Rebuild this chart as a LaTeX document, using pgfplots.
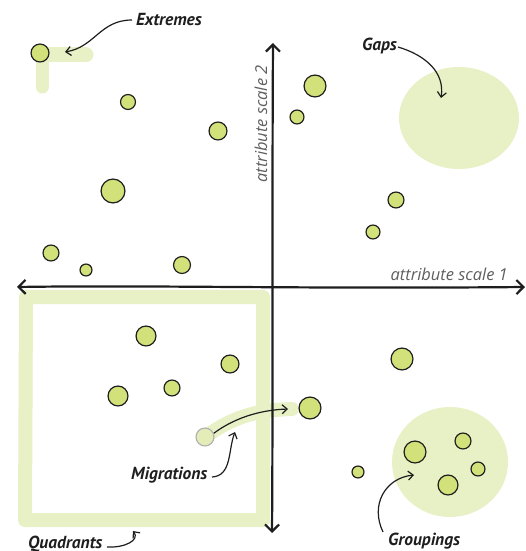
\documentclass[border=0pt]{standalone}
\usepackage{pgfplots}
\pgfplotsset{compat=1.18}
\usepackage{fontspec}
\setmainfont{PT Sans}
\newfontfamily\labfont{Open Sans}
\usetikzlibrary{arrows.meta}
\definecolor{ptfill}{HTML}{D2E17A}
\definecolor{hl}{HTML}{E8F0C6}
\definecolor{labgray}{HTML}{5E5E5E}
\definecolor{ink}{HTML}{1E1E1E}
\pgfplotstableread{
x y r
40 53 9
128 102 7.5
218 131 9
113 191 12
51 253 8
86 270 6
182 265 8.5
315 86 11
297 117 7
396 200 8
373 232 7
146 336 10
230 364 9
118 396 10
172 388 8
310 408 11
402 359 11
358 472 6
415 452 11
463 441 8
478 469 7
448 485 10
}\points
\pgfplotstableread{
x y r
205 437 9
}\faded
\begin{document}
\begin{tikzpicture}
\begin{axis}[
  scale only axis, width=526bp, height=551bp,
  xmin=0, xmax=526, ymin=0, ymax=551, y dir=reverse,
  hide axis, clip=false,
]
% highlights
\fill[hl] (axis cs:459,118) ellipse [x radius=60bp, y radius=51bp];
\fill[hl] (axis cs:450,462) ellipse [x radius=58bp, y radius=55bp];
\draw[hl, line width=14bp, line join=round] (axis cs:26,297) -- (axis cs:263,297) -- (axis cs:263,520) -- (axis cs:25,520) -- cycle;
\draw[hl, line width=15bp, line cap=round] (axis cs:40,55) -- (axis cs:86,55);
\draw[hl, line width=13bp, line cap=round] (axis cs:42,55) -- (axis cs:42,87);
\draw[hl, line width=14bp, line cap=round] (axis cs:205,437) .. controls (axis cs:235,415) and (axis cs:260,410) .. (axis cs:292,409);
% axes
\draw[ink, line width=2.2bp, {Straight Barb[length=7bp,width=14bp]}-{Straight Barb[length=7bp,width=14bp]}] (axis cs:17,287) .. controls (axis cs:150,285) and (axis cs:300,289) .. (axis cs:525,287);
\draw[ink, line width=2.2bp, {Straight Barb[length=7bp,width=14bp]}-{Straight Barb[length=7bp,width=14bp]}] (axis cs:273,43) .. controls (axis cs:272,200) and (axis cs:273,400) .. (axis cs:272,533);
% axis labels
\node[anchor=east, text=labgray, font=\labfont\fontsize{16.5}{18}\selectfont\itshape, inner sep=0pt] at (axis cs:508,274) {attribute scale 1};
\node[rotate=90, text=labgray, font=\labfont\fontsize{16.5}{18}\selectfont\itshape, inner sep=0pt] at (axis cs:261,124) {attribute scale 2};
% points
\addplot[scatter, only marks, mark=*, line width=1.2bp,
  scatter/use mapped color={draw=ink, fill=ptfill},
  visualization depends on={\thisrow{r}\as\rad},
  scatter/@pre marker code/.append style={/tikz/mark size=\rad}]
  table[x=x, y=y] {\points};
\addplot[scatter, only marks, mark=*, line width=1.2bp,
  scatter/use mapped color={draw=black!30, fill=hl!80!ptfill},
  visualization depends on={\thisrow{r}\as\rad},
  scatter/@pre marker code/.append style={/tikz/mark size=\rad}]
  table[x=x, y=y] {\faded};
% annotation arrows
\tikzset{ann/.style={ink, line width=1.2bp, -{Straight Barb[length=5bp,width=9bp]}}}
\draw[ann] (axis cs:132,20) .. controls (axis cs:100,20) and (axis cs:95,47) .. (axis cs:65,52);
\draw[ann] (axis cs:398,47) .. controls (axis cs:425,55) and (axis cs:445,72) .. (axis cs:441,98);
\draw[ann] (axis cs:209,437) .. controls (axis cs:232,418) and (axis cs:260,410) .. (axis cs:288,409);
\draw[ann] (axis cs:212,477) .. controls (axis cs:232,476) and (axis cs:228,450) .. (axis cs:235,432);
\draw[ann] (axis cs:107,547) .. controls (axis cs:125,548) and (axis cs:140,540) .. (axis cs:133,531);
\draw[ann] (axis cs:383,532) .. controls (axis cs:370,505) and (axis cs:385,478) .. (axis cs:414,475);
% annotation labels
\tikzset{annlab/.style={anchor=west, inner sep=0pt, text=ink, font=\fontsize{17.5}{19}\selectfont\bfseries\itshape}}
\node[annlab] at (axis cs:136,20) {Extremes};
\node[annlab] at (axis cs:362,46) {Gaps};
\node[annlab] at (axis cs:131,475) {Migrations};
\node[annlab] at (axis cs:28,544) {Quadrants};
\node[annlab] at (axis cs:388,541) {Groupings};
\end{axis}
\pgfresetboundingbox
\useasboundingbox (0,0) rectangle (526bp,551bp);
\end{tikzpicture}
\end{document}
